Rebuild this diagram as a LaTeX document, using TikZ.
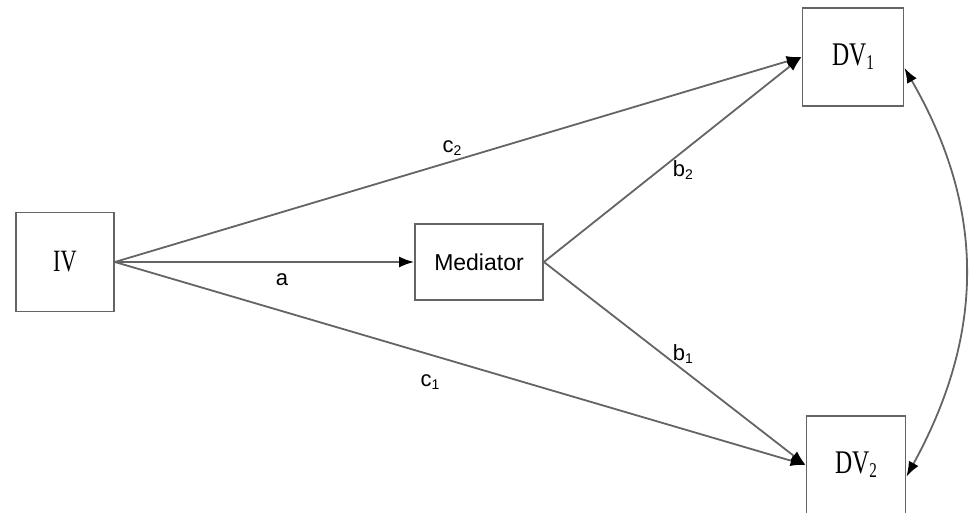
\documentclass[tikz,border=0pt]{standalone}
\usepackage{fontspec}
\setmainfont{Liberation Serif}
\setsansfont{Liberation Sans}
\newfontfamily\boxserif[FakeStretch=0.72]{Liberation Serif}
\usetikzlibrary{positioning,arrows.meta}
\definecolor{linegray}{RGB}{100,100,100}
\newcommand{\lowidx}[1]{\raisebox{-0.12em}{\fontsize{14}{14}\selectfont #1}}

\begin{document}
\begin{tikzpicture}[x=1pt,y=1pt,
		box/.style={draw=linegray, line width=1.8pt, inner sep=0pt},
		link/.style={draw=linegray, line width=1.8pt, -{Latex[length=15pt,width=11pt,color=black]}},
		lbl/.style={font=\sffamily\fontsize{22}{22}\selectfont}]
		\useasboundingbox (0,0) rectangle (969,513);

		% Variables
		\node[box, minimum width=98, minimum height=99, font=\boxserif\fontsize{31}{31}\selectfont] (iv) at (65,251) {IV};
		\node[box, minimum width=128, minimum height=76, font=\sffamily\fontsize{23}{23}\selectfont] (med) at (479,251) {Mediator};
		\node[box, minimum width=101, minimum height=98, font=\boxserif\fontsize{33}{33}\selectfont] (dvone) at (853,456) {DV\lowidx{\fontsize{21}{21}\selectfont 1}};
		\node[box, minimum width=99, minimum height=98, font=\boxserif\fontsize{33}{33}\selectfont] (dvtwo) at (856,48) {DV\lowidx{\fontsize{21}{21}\selectfont 2}};

		% Paths
		\draw[link] (iv.east) -- (dvone.west);
		\draw[link] (iv.east) -- (med.west);
		\draw[link] (iv.east) -- (dvtwo.west);
		\draw[link] (med.east) -- (dvone.west);
		\draw[link] (med.east) -- (dvtwo.west);

		% Covariance
		\draw[link, {Latex[length=15pt,width=11pt,color=black]}-{Latex[length=15pt,width=11pt,color=black]}] (dvone.-12) .. controls +(82,-142) and +(78,142) .. (dvtwo.-13);

		% Labels
		\node[lbl] (la) at (282,233) {a};
		\node[lbl] (lctwo) at (452,365) {c\lowidx{2}};
		\node[lbl] (lcone) at (430,131) {c\lowidx{1}};
		\node[lbl] (lbtwo) at (683,343) {b\lowidx{2}};
		\node[lbl] (lbone) at (683,159) {b\lowidx{1}};
	\end{tikzpicture}
\end{document}
